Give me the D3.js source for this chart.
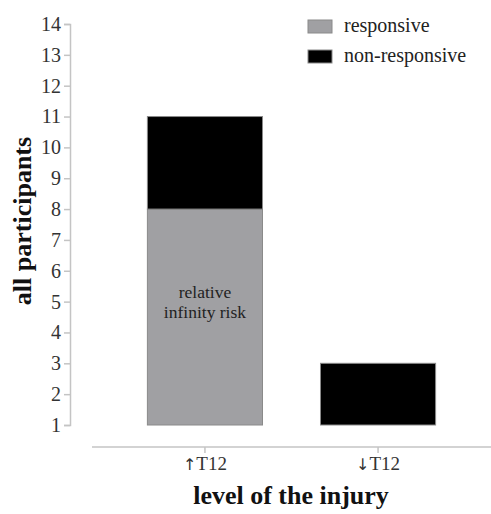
<!DOCTYPE html>
<html>
<head>
<meta charset="utf-8">
<script src="https://cdn.jsdelivr.net/npm/d3@7"></script>
<style>
  body { margin: 0; background: #fff; }
  .axis path, .axis line { stroke: #c4c4c4; stroke-width: 1.5; }
</style>
</head>
<body>
<div id="chart"></div>
<script>
//Global variables
const width = 491;
const height = 514;
const serif = "'Liberation Serif', 'Times New Roman', Times, serif";

//Data
const levels = ["\u2191T12", "\u2193T12"];
const responsive = [7, 0];
const nonResponsive = [3, 2];
const yTicks = [1, 2, 3, 4, 5, 6, 7, 8, 9, 10, 11, 12, 13, 14];
const seriesNames = ["responsive", "non-responsive"];
const seriesColors = ["#a0a0a3", "#000000"];

//Stack rows
const rows = levels.map((l, i) => ({ level: l, responsive: responsive[i], "non-responsive": nonResponsive[i] }));
const stacked = d3.stack().keys(seriesNames)(rows);

//Scales
const xScale = d3.scaleBand()
    .domain(levels)
    .range([92, 491])
    .paddingInner(0.335)
    .paddingOuter(0.32);

const yScale = d3.scaleLinear()
    .domain([1, 14])
    .range([425, 24]);

const svg = d3.select("#chart")
    .append("svg")
    .attr("width", width)
    .attr("height", height)
    .attr("font-family", serif);

//Bars, base starts at 1
svg.append("g")
    .selectAll("g")
    .data(stacked)
    .enter()
    .append("g")
    .attr("fill", (d, i) => seriesColors[i])
    .selectAll("rect")
    .data(d => d.filter(p => p[1] > p[0]))
    .enter()
    .append("rect")
    .attr("x", d => xScale(d.data.level))
    .attr("y", d => yScale(1 + d[1]))
    .attr("width", xScale.bandwidth())
    .attr("height", d => yScale(1 + d[0]) - yScale(1 + d[1]))
    .attr("stroke", "#8a8a8a")
    .attr("stroke-width", 1);

//Annotation inside first bar
const annot = svg.append("text")
    .attr("text-anchor", "middle")
    .attr("font-family", serif)
    .attr("font-size", 17.5)
    .attr("fill", "#222");
annot.append("tspan").attr("x", xScale(levels[0]) + xScale.bandwidth() / 2).attr("y", 298).text("relative");
annot.append("tspan").attr("x", xScale(levels[0]) + xScale.bandwidth() / 2).attr("y", 318).text("infinity risk");

//Y axis
const yAxis = svg.append("g")
    .attr("class", "axis")
    .attr("transform", "translate(70,0)")
    .call(d3.axisLeft(yScale).tickValues(yTicks).tickSize(6).tickSizeOuter(6).tickPadding(3).tickFormat(d3.format("d")));
yAxis.attr("font-family", serif).attr("font-size", 20);
yAxis.selectAll("text").attr("fill", "#333");

//X axis, arrow drawn in a font with a bigger glyph
const xAxis = svg.append("g")
    .attr("class", "axis")
    .attr("transform", "translate(0,447)")
    .call(d3.axisBottom(xScale).tickSize(6).tickSizeOuter(0).tickPadding(4));
xAxis.attr("font-family", serif).attr("font-size", 19);
xAxis.selectAll("text")
    .attr("fill", "#333")
    .each(function(d) {
        const t = d3.select(this).text("");
        t.append("tspan").attr("font-family", "'DejaVu Sans', sans-serif").attr("font-size", 16).text(d.slice(0, 1));
        t.append("tspan").text(d.slice(1));
    });
xAxis.select(".domain").attr("d", "M92,0H491");

//Axis labels
svg.append("text")
    .attr("text-anchor", "middle")
    .attr("font-family", serif)
    .attr("font-weight", "bold")
    .attr("font-size", 26)
    .attr("fill", "#111")
    .attr("x", 291)
    .attr("y", 504)
    .text("level of the injury");

svg.append("text")
    .attr("text-anchor", "middle")
    .attr("font-family", serif)
    .attr("font-weight", "bold")
    .attr("font-size", 26)
    .attr("fill", "#111")
    .attr("transform", "translate(31,221) rotate(-90)")
    .text("all participants");

//Legend
seriesNames.forEach((s, i) => {
    svg.append("rect")
        .attr("x", 308)
        .attr("y", 20 + i * 30)
        .attr("width", 24)
        .attr("height", 13)
        .attr("fill", seriesColors[i])
        .attr("stroke", "#8a8a8a");
    svg.append("text")
        .attr("x", 344)
        .attr("y", 32 + i * 30)
        .attr("font-family", serif)
        .attr("font-size", 20)
        .attr("fill", "#222")
        .text(s);
});
</script>
</body>
</html>
